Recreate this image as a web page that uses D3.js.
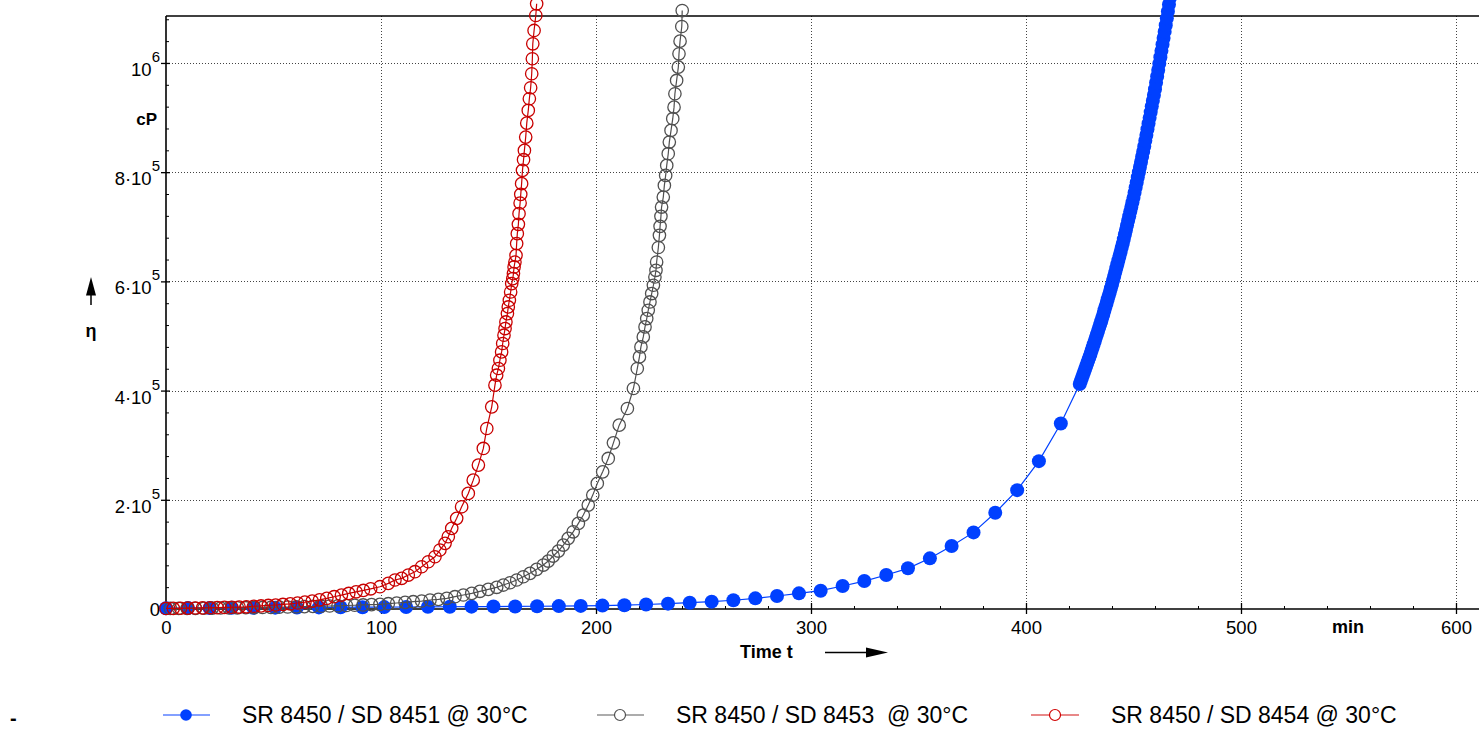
<!DOCTYPE html>
<html><head><meta charset="utf-8">
<script src="https://cdn.jsdelivr.net/npm/d3@7"></script>
<style>body{margin:0;background:#fff;overflow:hidden} svg{display:block} text{font-family:"Liberation Sans",Arial,sans-serif;fill:#000}</style>
</head><body><svg id="c" width="1479" height="729"></svg>
<script>
// ---- tick labels ----
const xTicks=[0,100,200,300,400,500,600];
const yTicks=[0,2e5,4e5,6e5,8e5,1e6];
const yTickBase=["0","2·10","4·10","6·10","8·10","10"];
const yTickExp=["","5","5","5","5","6"];
const seriesNames=["SR 8450 / SD 8451 @ 30°C","SR 8450 / SD 8453  @ 30°C","SR 8450 / SD 8454 @ 30°C"];

// ---- series: SD 8451 (blue, filled) ----
const blueTime=[0,10.2,20.3,30.5,40.6,50.8,60.9,71.1,81.2,91.4,101.5,111.7,121.8,132,142.1,152.3,162.4,172.6,182.7,192.9,203,213.2,223.3,233.5,243.6,253.8,263.9,274.1,284.2,294.4,304.5,314.7,324.8,335,345.1,355.3,365.4,375.6,385.7,395.9,406,416.2,
425,425.5,426,426.5,427,427.5,428,428.5,429,429.5,430,430.5,431,431.5,432,432.5,433,433.5,434,434.5,435,435.5,436,436.5,437,437.5,438,438.5,439,439.5,440,440.5,441,441.5,442,442.5,443,443.5,444,444.5,445,445.5,446,446.5,447,447.5,448,448.5,449,449.5,450,450.5,451,451.5,452,452.5,453,453.5,454,454.5,455,455.5,456,456.5,457,457.5,458,458.5,459,459.5,460,460.5,461,461.5,462,462.5,463,463.5,464,464.5,465,465.5,466,466.5,467,467.5];
const blueVisc=[1500,1700,1900,2100,2300,2500,2700,2900,3100,3300,3500,3700,3900,4100,4300,4500,4700,5000,5300,5700,6200,7000,8200,9800,11500,13500,16000,19500,23800,28700,33500,42100,51200,62200,74500,92800,115300,140300,176200,217700,270800,339800,
412000,417500,423000,428500,434000,439500,445000,450500,456000,461500,467000,473000,479000,485000,491000,497000,503000,509000,515000,521000,527000,533700,540400,547100,553800,560500,567200,573900,580600,587300,594000,601500,609000,616500,624000,631500,639000,646500,654000,661500,669000,677400,685800,694200,702600,711000,719400,727800,736200,744600,753000,762400,771800,781200,790600,800000,809400,818800,828200,837600,847000,857500,868000,878500,889000,899500,910000,920500,931000,941500,952000,963700,975400,987100,998800,1010500,1022200,1033900,1045600,1057300,1069000,1081700,1094400,1107100,1119800,1132500];

// ---- series: SD 8453 (gray, open) ----
const grayTime=[2,5.9,9.8,13.7,17.6,21.5,25.4,29.3,33.2,37.1,41,44.9,48.8,52.7,56.6,60.5,64.4,68.3,72.2,76.1,80,83.9,87.8,91.7,95.6,
99.5,103.4,107.3,111.2,115,118.9,122.8,126.7,130.6,134.4,138.3,142.2,146,149.9,153.8,156.9,160,163.1,166.2,169.3,172.4,175.5,177.8,180.1,182.5,184.8,187.1,189.4,191.8,194.1,196.4,198.5,200.6,203.1,205.7,208.1,210.8,214.6,217.4,219.2,220.2,220.9,222,222.8,223.6,224.3,225.1,225.9,226.7,227.4,227.9,228.2,229,229.5,229.8,230.2,230.5,231.3,231.8,232.4,232.9,233.6,234.1,234.9,235.7,236.3,236.7,237.5,238.3,238.6,239.1,239.9,240.1];
const grayVisc=[1000,1100,1200,1300,1400,1600,1800,2000,2200,2400,2600,2800,3100,3400,3700,4000,4300,4700,5100,5500,5900,6400,6900,7400,8000,
8600,9700,11000,12200,13400,14600,16500,17700,19600,22500,25600,28700,32400,36000,39700,43900,48100,53100,59100,65300,72600,80500,87800,97000,106100,117100,129400,141400,156800,172000,190300,208600,230000,251200,275700,304300,336700,367200,403800,440400,461700,480000,498300,516600,531900,547100,562300,577700,592900,608000,620300,635500,662000,684300,700800,719100,736100,754400,775800,794100,812400,833800,855100,876500,897900,919100,943600,968000,992400,1016800,1039900,1066800,1096000];

// ---- series: SD 8454 (red, open) ----
const redTime=[0,3.4,6.8,10.2,13.6,17,20.4,23.8,27.2,30.6,34,37.4,40.8,44.2,47.6,51,54.4,57.8,61.2,64.6,68,71.4,74.8,78.2,81.6,85,88.4,91.8,95.2,99.5,
103.4,106.5,109.6,112.7,115.8,118.9,122,125.1,127.4,129.8,131.3,132.9,135.2,137.5,140.6,142.9,145.3,147.6,149.2,151.5,153,153.8,154.6,155.3,156.1,156.6,157.2,157.7,158.1,158.8,159.2,159.7,160.3,160.8,161.3,161.6,161.9,162.3,162.8,163.1,163.4,163.9,164.2,164.7,165,165.4,165.8,166.3,166.7,167.3,167.8,168.5,169,169.6,170.1,170.4,170.6,171.2,172,172.4];
const redVisc=[1000,1200,1400,1600,1800,2000,2300,2600,2900,3200,3600,4000,5000,5600,6500,7300,8300,9500,11000,12500,14500,16800,19500,22500,25500,28500,31500,34000,37000,40800,
47000,53100,56200,62200,68300,77400,86500,95700,108000,120200,132300,147700,166000,187200,211700,236000,263500,294000,330600,370200,409900,428200,440400,455600,470800,486200,501400,513600,525700,541000,553200,565400,580600,595900,605100,614200,626400,635500,647700,669200,687400,704500,724000,743500,759400,779000,803300,822800,839900,864200,889800,913100,934500,954600,980200,1007700,1035100,1059500,1086900,1108300];

const svg=d3.select("#c");
const x=d3.scaleLinear().domain([0,610.7]).range([166,1479]);
const y=d3.scaleLinear().domain([0,1.086e6]).range([609,16]);
const X0=166,X1=1479,Y0=609,Y1=16;

// grid
const grid=svg.append("g").attr("stroke","#444").attr("stroke-width",1).attr("stroke-dasharray","1,2");
grid.selectAll("line.v").data(xTicks.filter(d=>d>0)).enter().append("line")
  .attr("x1",d=>Math.round(x(d))+0.5).attr("x2",d=>Math.round(x(d))+0.5).attr("y1",Y1).attr("y2",Y0);
grid.selectAll("line.h").data(yTicks.filter(d=>d>0)).enter().append("line")
  .attr("y1",d=>Math.round(y(d))+0.5).attr("y2",d=>Math.round(y(d))+0.5).attr("x1",X0).attr("x2",X1);

// axes
const xMinor=d3.range(20,611,20).filter(d=>d%100!==0);
const yMinor=d3.range(4e4,1.086e6,4e4).filter(d=>Math.abs(d/2e5-Math.round(d/2e5))>1e-6);
const gx=svg.append("g").attr("transform",`translate(0,${Y0})`);
gx.call(d3.axisBottom(x).tickValues(xMinor).tickSize(-3).tickFormat(""));
gx.call(g=>g.select(".domain").remove());
const gxM=svg.append("g").attr("transform",`translate(0,${Y0})`);
gxM.call(d3.axisBottom(x).tickValues(xTicks).tickSize(5).tickFormat(d3.format("d")));
gxM.select(".domain").remove();
gxM.selectAll(".tick line").attr("y1",-6).attr("y2",5).attr("stroke","#000").attr("stroke-width",1.3);
gxM.selectAll(".tick text").attr("y",25).attr("dy",0).attr("font-size",18.5).attr("font-family","Liberation Sans, Arial, sans-serif").attr("fill","#000");
gx.selectAll(".tick line").attr("stroke","#000");

const gy=svg.append("g").attr("transform",`translate(${X0},0)`);
gy.call(d3.axisLeft(y).tickValues(yMinor).tickSize(-3).tickFormat(""));
gy.select(".domain").remove();
gy.selectAll(".tick line").attr("stroke","#000");
const gyM=svg.append("g").attr("transform",`translate(${X0},0)`);
gyM.call(d3.axisLeft(y).tickValues(yTicks).tickSize(5).tickFormat(""));
gyM.select(".domain").remove();
gyM.selectAll(".tick line").attr("x1",-5).attr("x2",4).attr("stroke","#000").attr("stroke-width",1.3);
gyM.selectAll(".tick").each(function(d,i){
  const t=d3.select(this).append("text").attr("text-anchor","end").attr("x",-6)
    .attr("font-size",18.5).attr("fill","#000").attr("font-family","Liberation Sans, Arial, sans-serif");
  if(yTickExp[i]===""){ t.attr("y",6.7).text(yTickBase[i]); }
  else{
    t.attr("y",12.5);
    t.append("tspan").text(yTickBase[i]);
    t.append("tspan").attr("dy",-14).attr("font-size",15).text(yTickExp[i]);
  }
});

// frame lines
svg.append("line").attr("x1",X0).attr("x2",X0).attr("y1",Y1).attr("y2",Y0+4).attr("stroke","#000").attr("stroke-width",1.6);
svg.append("line").attr("x1",X0).attr("x2",X1).attr("y1",Y0).attr("y2",Y0).attr("stroke","#000").attr("stroke-width",1.6);
svg.append("line").attr("x1",X0).attr("x2",X1).attr("y1",Y1).attr("y2",Y1).attr("stroke","#000").attr("stroke-width",1.6);

// series
const series=[
 {t:blueTime,v:blueVisc,color:"#0040ff",filled:true,r:7},
 {t:grayTime,v:grayVisc,color:"#505050",filled:false,r:6.2},
 {t:redTime,v:redVisc,color:"#c80000",filled:false,r:6.2}
];
const line=d3.line().x(d=>x(d[0])).y(d=>y(d[1]));
series.forEach(s=>{
  const pts=s.t.map((t,i)=>[t,s.v[i]]);
  const g=svg.append("g");
  g.append("path").datum(pts).attr("d",line).attr("fill","none").attr("stroke",s.color).attr("stroke-width",1.2);
  g.selectAll("circle").data(pts).enter().append("circle")
    .attr("cx",d=>x(d[0])).attr("cy",d=>y(d[1])).attr("r",s.r)
    .attr("fill",s.filled?s.color:"none").attr("stroke",s.filled?"none":s.color).attr("stroke-width",1.3);
});

// axis titles
svg.append("text").attr("x",157).attr("y",125).attr("text-anchor","end").attr("font-weight","bold").attr("font-size",17).text("cP");
svg.append("text").attr("x",91).attr("y",337).attr("text-anchor","middle").attr("font-weight","bold").attr("font-size",18).text("η");
svg.append("line").attr("x1",91).attr("x2",91).attr("y1",305).attr("y2",292).attr("stroke","#000").attr("stroke-width",1.5);
svg.append("path").attr("d","M86,295.5L96,295.5L91,277Z").attr("fill","#000");
svg.append("text").attr("x",740).attr("y",658).attr("font-weight","bold").attr("font-size",18).text("Time t");
svg.append("line").attr("x1",825).attr("x2",868).attr("y1",652.5).attr("y2",652.5).attr("stroke","#000").attr("stroke-width",1.5);
svg.append("path").attr("d","M866,647.5L866,657.5L888,652.5Z").attr("fill","#000");
svg.append("text").attr("x",1332).attr("y",633).attr("font-weight","bold").attr("font-size",18).text("min");

// legend
const LY=715;
svg.append("text").attr("x",10).attr("y",725).attr("font-weight","bold").attr("font-size",20).text("-");
const leg=[
 {x1:163,x2:210,cx:186,tx:242,color:"#0040ff",lc:"#5a80ff",filled:true,r:5.8},
 {x1:597,x2:644,cx:620,tx:676,color:"#505050",lc:"#909090",filled:false,r:5.5},
 {x1:1031,x2:1079,cx:1055,tx:1111,color:"#d00000",lc:"#e06060",filled:false,r:5.5}
];
leg.forEach((l,i)=>{
  svg.append("line").attr("x1",l.x1).attr("x2",l.x2).attr("y1",LY).attr("y2",LY).attr("stroke",l.lc).attr("stroke-width",1.5);
  svg.append("circle").attr("cx",l.cx).attr("cy",LY).attr("r",l.r).attr("fill",l.filled?l.color:"#fff").attr("stroke",l.filled?"none":l.color).attr("stroke-width",1.2);
  svg.append("text").attr("x",l.tx).attr("y",LY+8).attr("font-size",23).attr("xml:space","preserve").style("white-space","pre").text(seriesNames[i]);
});
</script></body></html>
